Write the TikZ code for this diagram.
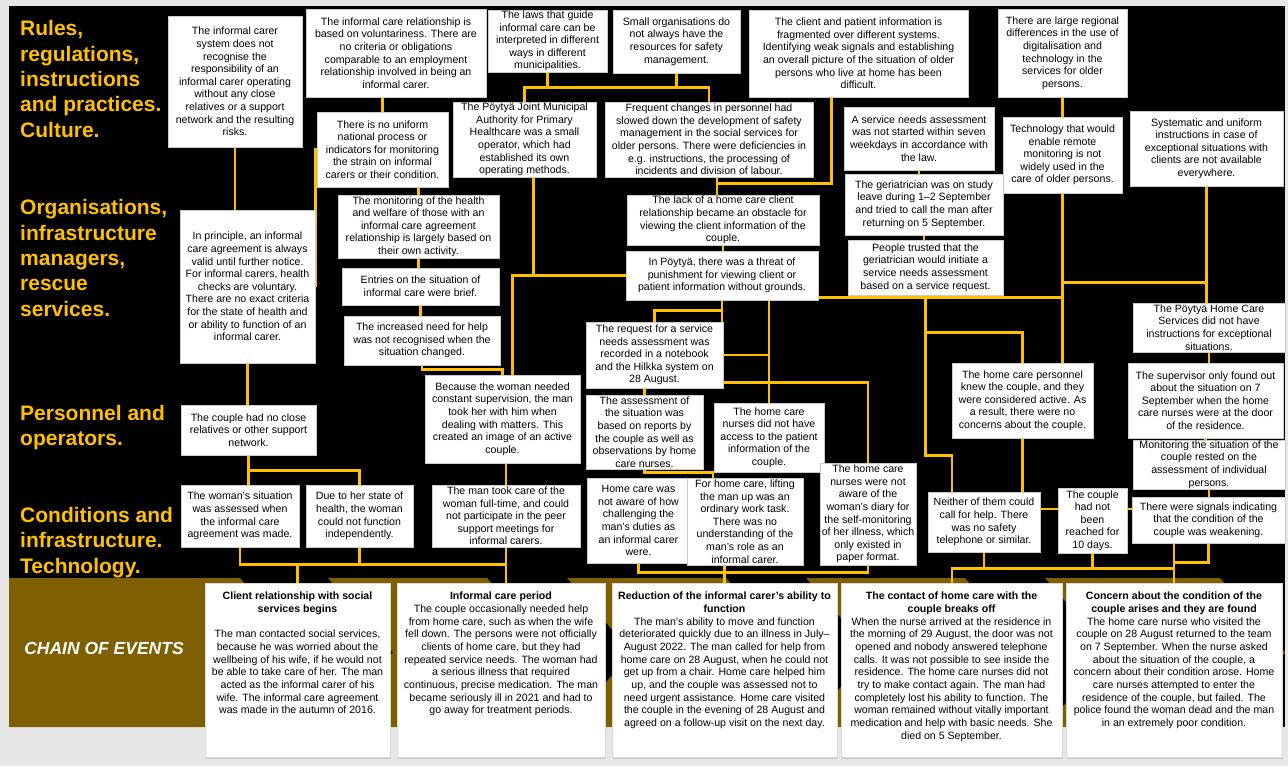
\documentclass[tikz,border=0pt]{standalone}
\usepackage{fontspec}
\setmainfont{Liberation Sans}
\usetikzlibrary{calc,shadows}
\definecolor{gold}{HTML}{FFC000}
\definecolor{chainbrown}{HTML}{7F6000}
\definecolor{paper}{HTML}{E7E7E7}
\pgfdeclarelayer{back}
\pgfdeclarelayer{wires}
\pgfsetlayers{back,wires,main}
\tikzset{
	cause/.style={fill=white, draw=gray!40, line width=0.4pt, inner sep=0.5pt, align=center, font=\fontsize{10.6}{12.6}\selectfont},
	event/.style={fill=white, draw=gray!30, inner sep=2pt, minimum height=174pt, drop shadow={shadow xshift=1.2pt, shadow yshift=-1.5pt, fill=black!35}, font=\fontsize{10.6}{12.7}\selectfont},
	rowlabel/.style={text=gold, anchor=base west, align=left, inner sep=0pt, font=\fontsize{21}{25.3}\selectfont\bfseries},
	wire/.style={draw=gold, line width=2.6pt},
}

\begin{document}
\begin{tikzpicture}[x=1pt,y=-1pt]
	\useasboundingbox (0,0) rectangle (1288,766);
	\begin{pgfonlayer}{back}
		\fill[paper] (0,0) rectangle (1288,766);
		\fill[black] (9,6) rectangle (1285,727);
		\fill[chainbrown] (9,578) -- (240,578) -- (305,652.5) -- (240,727) -- (9,727) -- cycle;
		\fill[chainbrown] (328,578) -- (487,578) -- (552,652.5) -- (487,727) -- (328,727) -- (393,652.5) -- cycle;
		\fill[chainbrown] (567,578) -- (726,578) -- (791,652.5) -- (726,727) -- (567,727) -- (632,652.5) -- cycle;
		\fill[chainbrown] (806,578) -- (965,578) -- (1030,652.5) -- (965,727) -- (806,727) -- (871,652.5) -- cycle;
		\fill[chainbrown] (1045,578) -- (1220,578) -- (1285,652.5) -- (1220,727) -- (1045,727) -- (1110,652.5) -- cycle;
	\end{pgfonlayer}

	% base anchor sits on the last line
	\node[rowlabel] (rules) at (20,137) {Rules,\\regulations,\\instructions\\and practices.\\Culture.};
	\node[rowlabel] (organisations) at (20,316) {Organisations,\\infrastructure\\managers,\\rescue\\services.};
	\node[rowlabel] (operators) at (20,445.5) {Personnel and\\operators.};
	\node[rowlabel] (conditions) at (20,573) {Conditions and\\infrastructure.\\Technology.};
	\node[text=white, font=\fontsize{17.5}{20}\selectfont\bfseries\itshape] (chain) at (104,648) {CHAIN OF EVENTS};

	% left column
	\node[cause, minimum width=134pt, minimum height=131pt] (carersystem) at (235,81.5) {The informal carer\\system does not\\recognise the\\responsibility of an\\informal carer operating\\without any close\\relatives or a support\\network and the resulting\\risks.};
	\node[cause, minimum width=135pt, minimum height=153pt] (agreement) at (247.5,286.5) {In principle, an informal\\care agreement is always\\valid until further notice.\\For informal carers, health\\checks are voluntary.\\There are no exact criteria\\for the state of health and\\or ability to function of an\\informal carer.};
	\node[cause, minimum width=135pt, minimum height=50pt] (norelatives) at (248.5,430) {The couple had no close\\relatives or other support\\network.};
	\node[cause, minimum width=118pt, minimum height=62pt] (assessedwoman) at (240,516) {The woman's situation\\was assessed when\\the informal care\\agreement was made.};
	\node[cause, minimum width=107pt, minimum height=62pt] (herhealth) at (359.5,516) {Due to her state of\\health, the woman\\could not function\\independently.};

	% second column
	\node[cause, minimum width=180pt, minimum height=88pt] (voluntary) at (396,53) {The informal care relationship is\\based on voluntariness. There are\\no criteria or obligations\\comparable to an employment\\relationship involved in being an\\informal carer.};
	\node[cause, minimum width=131pt, minimum height=75pt] (noprocess) at (382.5,149.5) {There is no uniform\\national process or\\indicators for monitoring\\the strain on informal\\carers or their condition.};
	\node[cause, minimum width=161pt, minimum height=63pt] (monitoring) at (418.5,226.5) {The monitoring of the health\\and welfare of those with an\\informal care agreement\\relationship is largely based on\\their own activity.};
	\node[cause, minimum width=157pt, minimum height=37pt] (entries) at (420.5,286.5) {Entries on the situation of\\informal care were brief.};
	\node[cause, minimum width=156pt, minimum height=49pt] (needhelp) at (422,340.5) {The increased need for help\\was not recognised when the\\situation changed.};
	\node[cause, minimum width=155pt, minimum height=88pt] (supervision) at (502.5,419) {Because the woman needed\\constant supervision, the man\\took her with him when\\dealing with matters. This\\created an image of an active\\couple.};
	\node[cause, minimum width=148pt, minimum height=62pt] (fulltime) at (506,516) {The man took care of the\\woman full-time, and could\\not participate in the peer\\support meetings for\\informal carers.};

	% middle
	\node[cause, minimum width=119pt, minimum height=62pt] (laws) at (547.5,41) {The laws that guide\\informal care can be\\interpreted in different\\ways in different\\municipalities.};
	\node[cause, minimum width=127pt, minimum height=63pt] (smallorgs) at (676.5,41.5) {Small organisations do\\not always have the\\resources for safety\\management.};
	\node[cause, minimum width=143pt, minimum height=75pt] (jointauth) at (524.5,139.5) {The Pöytyä Joint Municipal\\Authority for Primary\\Healthcare was a small\\operator, which had\\established its own\\operating methods.};
	\node[cause, minimum width=208pt, minimum height=75pt] (personnel) at (709,139.5) {Frequent changes in personnel had\\slowed down the development of safety\\management in the social services for\\older persons. There were deficiencies in\\e.g. instructions, the processing of\\incidents and division of labour.};
	\node[cause, minimum width=219pt, minimum height=87pt] (fragmented) at (858.5,53.5) {The client and patient information is\\fragmented over different systems.\\Identifying weak signals and establishing\\an overall picture of the situation of older\\persons who live at home has been\\difficult.};
	\node[cause, minimum width=192pt, minimum height=50pt] (noclient) at (723,220) {The lack of a home care client\\relationship became an obstacle for\\viewing the client information of the\\couple.};
	\node[cause, minimum width=192pt, minimum height=49pt] (threat) at (722,275.5) {In Pöytyä, there was a threat of\\punishment for viewing client or\\patient information without grounds.};
	\node[cause, minimum width=137pt, minimum height=66pt] (request) at (654.5,355) {The request for a service\\needs assessment was\\recorded in a notebook\\and the Hilkka system on\\28 August.};
	\node[cause, minimum width=117pt, minimum height=74pt] (assessment) at (644.5,432) {The assessment of\\the situation was\\based on reports by\\the couple as well as\\observations by home\\care nurses.};
	\node[cause, minimum width=110pt, minimum height=69pt] (noaccess) at (769,437.5) {The home care\\nurses did not have\\access to the patient\\information of the\\couple.};
	\node[cause, minimum width=103pt, minimum height=85pt] (duties) at (638.5,520.5) {Home care was\\not aware of how\\challenging the\\man's duties as\\an informal carer\\were.};
	\node[cause, minimum width=116pt, minimum height=87pt] (lifting) at (745,521.5) {For home care, lifting\\the man up was an\\ordinary work task.\\There was no\\understanding of the\\man's role as an\\informal carer.};
	\node[cause, minimum width=96pt, minimum height=102pt] (diary) at (868,514) {The home care\\nurses were not\\aware of the\\woman's diary for\\the self-monitoring\\of her illness, which\\only existed in\\paper format.};

	% right side
	\node[cause, minimum width=150pt, minimum height=63pt] (sevendays) at (919,138.5) {A service needs assessment\\was not started within seven\\weekdays in accordance with\\the law.};
	\node[cause, minimum width=158pt, minimum height=61pt] (geriatrician) at (924,204.5) {The geriatrician was on study\\leave during 1--2 September\\and tried to call the man after\\returning on 5 September.};
	\node[cause, minimum width=155pt, minimum height=55pt] (trusted) at (925.5,267.5) {People trusted that the\\geriatrician would initiate a\\service needs assessment\\based on a service request.};
	\node[cause, minimum width=129pt, minimum height=88pt] (regional) at (1062.5,53) {There are large regional\\differences in the use of\\digitalisation and\\technology in the\\services for older\\persons.};
	\node[cause, minimum width=119pt, minimum height=76pt] (remote) at (1062.5,155) {Technology that would\\enable remote\\monitoring is not\\widely used in the\\care of older persons.};
	\node[cause, minimum width=153pt, minimum height=75pt] (uniform) at (1206.5,148.5) {Systematic and uniform\\instructions in case of\\exceptional situations with\\clients are not available\\everywhere.};
	\node[cause, minimum width=152pt, minimum height=49pt] (noinstr) at (1209,327.5) {The Pöytyä Home Care\\Services did not have\\instructions for exceptional\\situations.};
	\node[cause, minimum width=155pt, minimum height=75pt] (supervisor) at (1205.5,400.5) {The supervisor only found out\\about the situation on 7\\September when the home\\care nurses were at the door\\of the residence.};
	\node[cause, minimum width=152pt, minimum height=49pt] (individual) at (1209,464.5) {Monitoring the situation of the\\couple rested on the\\assessment of individual\\persons.};
	\node[cause, minimum width=141pt, minimum height=75pt] (knewcouple) at (1022.5,400.5) {The home care personnel\\knew the couple, and they\\were considered active. As\\a result, there were no\\concerns about the couple.};
	\node[cause, minimum width=112pt, minimum height=60pt] (nophone) at (984,522) {Neither of them could\\call for help. There\\was no safety\\telephone or similar.};
	\node[cause, minimum width=69pt, minimum height=65pt] (tendays) at (1092.5,520.5) {The couple\\had not\\been\\reached for\\10 days.};
	\node[cause, minimum width=153pt, minimum height=46pt] (signals) at (1208.5,520) {There were signals indicating\\that the condition of the\\couple was weakening.};

	% chain of events
	\node[event, minimum width=185pt] (ev1) at (297.5,670) {\parbox[c][166pt][t]{179pt}{\vspace*{5pt}\centering\textbf{Client relationship with social\\services begins}\\[12.7pt]The man contacted social services,\\because he was worried about the\\wellbeing of his wife, if he would not\\be able to take care of her. The man\\acted as the informal carer of his\\wife. The informal care agreement\\was made in the autumn of 2016.}};
	\node[event, minimum width=208pt] (ev2) at (501,670) {\parbox[c][166pt][t]{202pt}{\vspace*{5pt}\centering\textbf{Informal care period}\\The couple occasionally needed help\\from home care, such as when the wife\\fell down. The persons were not officially\\clients of home care, but they had\\repeated service needs. The woman had\\a serious illness that required\\continuous, precise medication. The man\\became seriously ill in 2021 and had to\\go away for treatment periods.}};
	\node[event, minimum width=225pt] (ev3) at (724.5,670) {\parbox[c][166pt][t]{219pt}{\vspace*{5pt}\centering\textbf{Reduction of the informal carer's ability to\\function}\\The man's ability to move and function\\deteriorated quickly due to an illness in July--\\August 2022. The man called for help from\\home care on 28 August, when he could not\\get up from a chair. Home care helped him\\up, and the couple was assessed not to\\need urgent assistance. Home care visited\\the couple in the evening of 28 August and\\agreed on a follow-up visit on the next day.}};
	\node[event, minimum width=221pt] (ev4) at (951.5,670) {\parbox[c][166pt][t]{215pt}{\vspace*{5pt}\centering\textbf{The contact of home care with the\\couple breaks off}\\When the nurse arrived at the residence in\\the morning of 29 August, the door was not\\opened and nobody answered telephone\\calls. It was not possible to see inside the\\residence. The home care nurses did not\\try to make contact again. The man had\\completely lost his ability to function. The\\woman remained without vitally important\\medication and help with basic needs. She\\died on 5 September.}};
	\node[event, minimum width=216pt] (ev5) at (1174,670) {\parbox[c][166pt][t]{210pt}{\vspace*{5pt}\centering\textbf{Concern about the condition of the\\couple arises and they are found}\\The home care nurse who visited the\\couple on 28 August returned to the team\\on 7 September. When the nurse asked\\about the situation of the couple, a\\concern about their condition arose. Home\\care nurses attempted to enter the\\residence of the couple, but failed. The\\police found the woman dead and the man\\in an extremely poor condition.}};

	\begin{pgfonlayer}{wires}
		% left column
		\draw[wire] (carersystem.south) -- (carersystem.south |- agreement.north);
		\draw[wire] (agreement.south) -- (agreement.south |- norelatives.north);
		\draw[wire] (norelatives.south) -- (norelatives.south |- assessedwoman.north);
		\draw[wire] (norelatives.south) -- ++(0,15) -| (herhealth.north);
		\draw[wire] (noprocess.west) -- (noprocess.west -| agreement.east) -- (agreement.east);
		\draw[wire] (assessedwoman.south) -- ++(0,17) coordinate (j1) -| (ev1.north);
		\draw[wire] (j1) -| (fulltime.south |- ev2.north);
		\draw[wire] (herhealth.south) -- (herhealth.south |- j1);
		\draw[wire] (fulltime.south) -- (fulltime.south |- j1);
		% second column
		\draw[wire] (noprocess.north |- voluntary.south) -- (noprocess.north);
		\draw[wire] (monitoring.north |- noprocess.south) -- (monitoring.north);
		\draw[wire] (monitoring.south) -- (monitoring.south |- entries.north);
		\draw[wire] (entries.south) -- (entries.south |- needhelp.north);
		\draw[wire] (needhelp.south) -- ++(0,4) -| (supervision.north);
		\draw[wire] (fulltime.north |- supervision.south) -- (fulltime.north);
		% organisations
		\draw[wire] (laws.south) -- ++(0,15) coordinate (k1);
		\draw[wire] (jointauth.north) |- (k1) -| (personnel.north);
		\draw[wire] (smallorgs.south) -- (smallorgs.south |- k1);
		\draw[wire] ([xshift=9pt]jointauth.south) -- ([xshift=9pt]jointauth.south |- threat.west);
		\draw[wire] (threat.west) -| ([xshift=10pt]supervision.north);
		\draw[wire] ([xshift=8pt]personnel.south) -- ([xshift=8pt]personnel.south |- noclient.north);
		\draw[wire] ([xshift=-27pt]fragmented.south) |- ([xshift=8pt,yshift=-6pt]personnel.south);
		\draw[wire] (noclient.south) -- (noclient.south |- threat.north);
		\draw[wire] (threat.south) -- ++(0,10) -| (request.north);
		\draw[wire] (threat.south) -- ++(0,82) -| (diary.north);
		\draw[wire] (noaccess.north |- threat.south) -- (noaccess.north);
		\draw[wire] (threat.south |- request.east) -- (noaccess.north |- request.east);
		\draw[wire] (assessment.north |- request.south) -- (assessment.north);
		\draw[wire] (assessment.south) -- ++(0,3) -| ([xshift=-32pt]lifting.north);
		\draw[wire] (duties.south) -- ++(0,9) -| (diary.south);
		\draw[wire] (ev3.north) -- (ev3.north |- lifting.south);
		% right side
		\draw[wire] (sevendays.south) -- (sevendays.south |- geriatrician.north);
		\draw[wire] (geriatrician.south) -- (geriatrician.south |- trusted.north);
		\draw[wire] ([yshift=3pt]threat.south east) -- ([yshift=3pt]threat.south east -| remote.south);
		\draw[wire] (regional.south) -- (remote.north);
		\draw[wire] (remote.south) -- (remote.south |- knewcouple.north);
		\draw[wire] ([yshift=-89pt]remote.south) -- ([yshift=-89pt]remote.south -| uniform.south);
		\draw[wire] (uniform.south) -- (uniform.south |- noinstr.north);
		\draw[wire] (noinstr.south) -- (noinstr.south |- supervisor.north);
		\draw[wire] (supervisor.south) -- (supervisor.south |- individual.north);
		\draw[wire] (individual.south) -- (individual.south |- signals.north);
		\draw[wire] (trusted.south) -- ++(0,160) -| ([xshift=-32pt]nophone.north);
		\draw[wire] (trusted.south) ++(0,37) -| (knewcouple.north);
		\draw[wire] (knewcouple.south) -- (knewcouple.south |- nophone.north);
		\draw[wire] ([yshift=13pt]nophone.east) -- ([yshift=13pt]nophone.east -| signals.west);
		\draw[wire] (nophone.south) -- ++(0,16) coordinate (j4);
		\draw[wire] ([xshift=-32pt]nophone.south |- ev4.north) |- (j4) -- (j4 -| ev5.north);
		\draw[wire] (tendays.south) -- (tendays.south |- j4);
		\draw[wire] (signals.south) -- ++(0,19) -| (ev5.north);
		\draw[wire] (ev5.north) -- (ev5.north |- signals.south);
	\end{pgfonlayer}
\end{tikzpicture}
\end{document}
